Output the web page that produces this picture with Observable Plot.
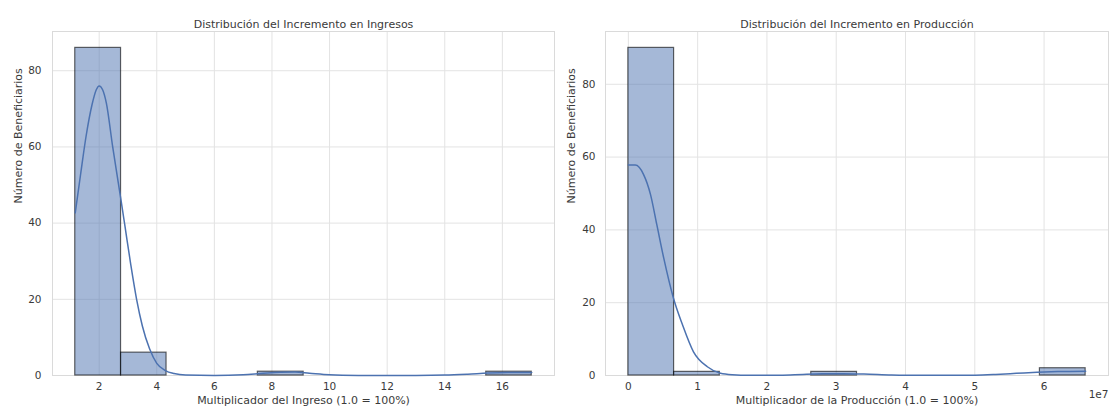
<!DOCTYPE html>
<html>
<head>
<meta charset="utf-8">
<script src="https://cdn.jsdelivr.net/npm/d3@7"></script>
<script src="https://cdn.jsdelivr.net/npm/@observablehq/plot@0.6"></script>
<style>
  html, body { margin: 0; padding: 0; background: #fff; }
  #wrap { display: flex; width: 1113px; height: 413px; }
</style>
</head>
<body>
<div id="wrap"></div>
<script>
// ---- Income panel data ----
const incomeEdges = [1.17, 2.76, 4.34, 5.93, 7.51, 9.10, 10.68, 12.27, 13.85, 15.44, 17.02];
const incomeCounts = [86, 6, 0, 0, 1, 0, 0, 0, 0, 1];
const incomeKdeX = [1.17, 1.35, 1.55, 1.75, 1.9, 2.0, 2.12, 2.25, 2.47, 2.76, 2.9, 3.1, 3.3, 3.5, 3.75, 4.0, 4.3, 4.6, 5.0, 6.0, 7.0, 7.6, 8.3, 8.8, 9.3, 10.0, 11.0, 12.0, 13.0, 14.0, 14.8, 15.5, 16.2, 17.02];
const incomeKdeY = [42.7, 52.5, 63, 71, 75, 76, 75, 71.5, 60, 46, 39, 29, 20, 13, 7, 3.2, 1.3, 0.5, 0.1, 0.02, 0.2, 0.5, 0.85, 0.9, 0.6, 0.2, 0.03, 0.0, 0.01, 0.1, 0.35, 0.65, 0.8, 0.8];
const incomeTicks = [2, 4, 6, 8, 10, 12, 14, 16];

// ---- Production panel data ----
const prodEdges = [0, 0.66e7, 1.32e7, 1.98e7, 2.64e7, 3.30e7, 3.96e7, 4.62e7, 5.28e7, 5.94e7, 6.60e7];
const prodCounts = [90, 1, 0, 0, 1, 0, 0, 0, 0, 2];
const prodKdeX = [0, 0.1e7, 0.22e7, 0.32e7, 0.41e7, 0.51e7, 0.65e7, 0.78e7, 0.94e7, 1.14e7, 1.33e7, 1.5e7, 1.75e7, 2.0e7, 2.4e7, 2.8e7, 3.1e7, 3.4e7, 3.8e7, 4.2e7, 4.6e7, 5.0e7, 5.3e7, 5.6e7, 5.9e7, 6.2e7, 6.6e7];
const prodKdeY = [57.8, 57.8, 55.2, 49.7, 41.5, 32.3, 21.3, 14, 6.5, 2.4, 0.6, 0.2, 0.05, 0.05, 0.2, 0.45, 0.5, 0.4, 0.15, 0.05, 0.05, 0.1, 0.3, 0.6, 0.9, 1.1, 1.2];
const prodTicks = [0, 1e7, 2e7, 3e7, 4e7, 5e7, 6e7];

const yTicks = [0, 20, 40, 60, 80];

const BAR = "#4c72b0";
const GRID = "#e3e3e3";
const TEXT = "#3a3a3a";

function bins(edges, counts) {
  return counts.map((c, i) => ({x1: edges[i], x2: edges[i + 1], y: c})).filter(d => d.y > 0);
}
function kde(xs, ys) {
  return xs.map((x, i) => ({x, y: ys[i]}));
}

function panel(o) {
  return Plot.plot({
    width: o.width,
    height: 413,
    marginLeft: o.marginLeft,
    marginRight: o.marginRight,
    marginTop: 31,
    marginBottom: 38,
    style: {fontFamily: "'DejaVu Sans', sans-serif", fontSize: "10.5px", color: TEXT, background: "#fff"},
    x: {domain: o.xDomain},
    y: {domain: o.yDomain},
    marks: [
      Plot.gridX(o.xTicks, {stroke: GRID, strokeOpacity: 1}),
      Plot.gridY(yTicks, {stroke: GRID, strokeOpacity: 1}),
      Plot.frame({stroke: "#dadada"}),
      Plot.rectY(bins(o.edges, o.counts), {x1: "x1", x2: "x2", y: "y", fill: BAR, fillOpacity: 0.5, stroke: "#000", strokeOpacity: 0.6, strokeWidth: 1.2}),
      Plot.line(kde(o.kdeX, o.kdeY), {x: "x", y: "y", stroke: BAR, strokeWidth: 1.5, curve: "monotone-x"}),
      Plot.axisX({ticks: o.xTicks, tickSize: 0, tickPadding: 7, tickFormat: o.tickFormat, label: null}),
      Plot.axisY({ticks: yTicks, tickSize: 0, tickPadding: o.yPad, label: null}),
      Plot.text([o.title], {text: d => d, frameAnchor: "top", dy: -11, fontSize: 11}),
      Plot.text([o.xLabel], {text: d => d, frameAnchor: "bottom", dy: 28, fontSize: 11}),
      Plot.text(["Número de Beneficiarios"], {text: d => d, frameAnchor: "left", rotate: -90, dx: -34, fontSize: 11}),
      ...(o.offset ? [Plot.text([o.offset], {text: d => d, frameAnchor: "bottom-right", dy: 22, textAnchor: "end", fontSize: 10.5})] : [])
    ]
  });
}

const left = panel({
  width: 556, marginLeft: 52, marginRight: 2,
  xDomain: [0.38, 17.81], yDomain: [0, 90.3],
  xTicks: incomeTicks, tickFormat: d => String(d), yPad: 11,
  edges: incomeEdges, counts: incomeCounts, kdeX: incomeKdeX, kdeY: incomeKdeY,
  title: "Distribución del Incremento en Ingresos",
  xLabel: "Multiplicador del Ingreso (1.0 = 100%)"
});
const right = panel({
  width: 557, marginLeft: 49, marginRight: 5,
  xDomain: [-0.33e7, 6.93e7], yDomain: [0, 94.5],
  xTicks: prodTicks, tickFormat: d => String(Math.round(d / 1e7)), yPad: 10,
  edges: prodEdges, counts: prodCounts, kdeX: prodKdeX, kdeY: prodKdeY,
  title: "Distribución del Incremento en Producción",
  xLabel: "Multiplicador de la Producción (1.0 = 100%)",
  offset: "1e7"
});
document.getElementById("wrap").append(left, right);
</script>
</body>
</html>
